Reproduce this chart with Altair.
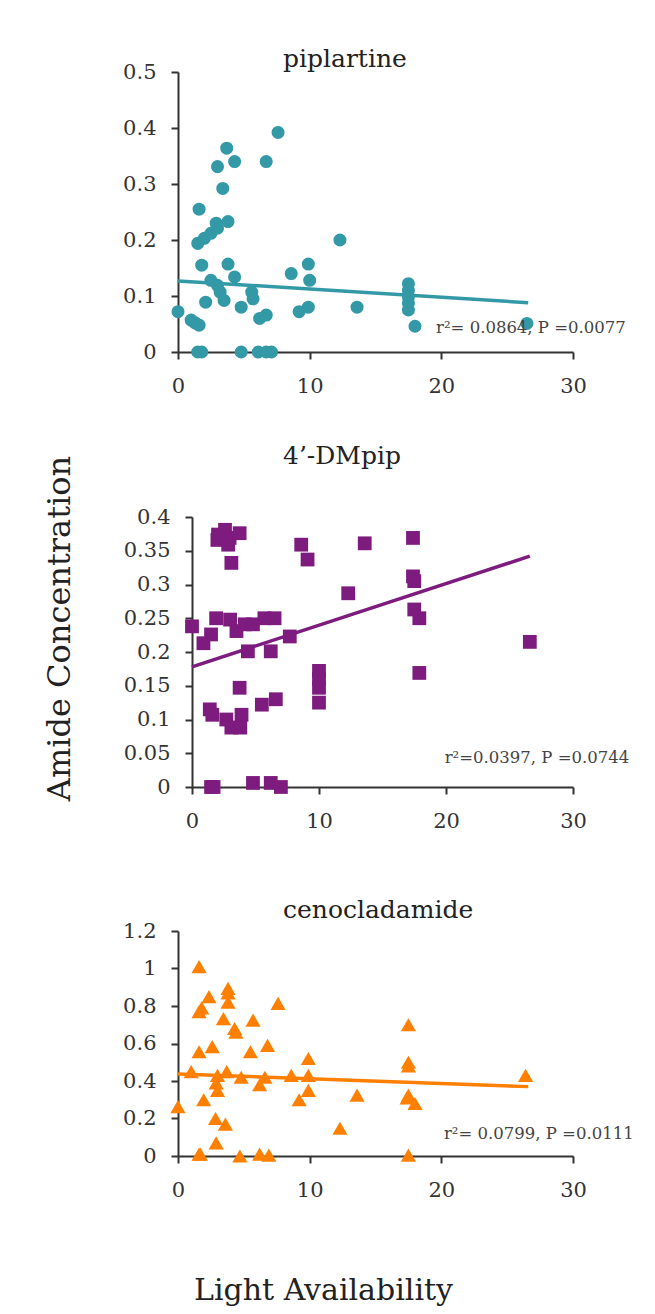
import altair as alt
import pandas as pd

FONT = "DejaVu Serif"

# ---------------- data ----------------
pip_x = [0, 1.0, 1.3, 1.6, 1.5, 1.8, 1.6, 1.5, 2.0, 2.5, 3.0, 2.9, 3.8, 1.8, 2.1,
         3.4, 3.0, 3.7, 4.3, 6.7, 7.6, 3.8, 4.3, 2.5, 3.0, 3.2, 3.5, 4.8, 5.6, 5.7,
         6.2, 6.7, 4.8, 6.1, 6.7, 7.1, 8.6, 9.9, 10.0, 9.2, 9.9, 12.3, 13.6, 17.5,
         17.5, 17.5, 17.5, 17.5, 18.0, 26.5]
pip_y = [0.072, 0.057, 0.052, 0.048, 0, 0, 0.255, 0.194, 0.203, 0.212, 0.221, 0.230,
         0.233, 0.155, 0.089, 0.292, 0.331, 0.364, 0.340, 0.340, 0.392, 0.157, 0.134,
         0.128, 0.119, 0.107, 0.092, 0.080, 0.107, 0.095, 0.060, 0.066, 0, 0, 0, 0,
         0.140, 0.157, 0.128, 0.072, 0.080, 0.200, 0.080, 0.122, 0.110, 0.098, 0.087,
         0.075, 0.046, 0.051]

dm_x = [0, 0.9, 1.5, 1.9, 3.0, 3.5, 4.15, 4.8, 5.7, 6.5, 4.4, 6.2, 7.7, 2.05, 2.0,
        2.6, 2.96, 2.85, 3.75, 3.1, 8.6, 9.1, 13.6, 17.4, 17.4, 17.5, 17.5, 17.9,
        17.9, 26.6, 12.3, 3.75, 1.4, 1.6, 2.7, 3.1, 3.9, 3.8, 5.5, 6.6, 10.0, 10.0,
        10.0, 10.0, 1.5, 1.7, 4.8, 6.2, 7.0]
dm_y = [0.238, 0.213, 0.226, 0.250, 0.248, 0.231, 0.241, 0.241, 0.250, 0.250, 0.201,
        0.201, 0.223, 0.374, 0.366, 0.381, 0.369, 0.359, 0.376, 0.332, 0.359, 0.337,
        0.361, 0.369, 0.312, 0.305, 0.263, 0.250, 0.169, 0.215, 0.287, 0.147, 0.115,
        0.107, 0.100, 0.088, 0.107, 0.088, 0.122, 0.130, 0.172, 0.160, 0.147, 0.125,
        0, 0, 0.006, 0.006, 0]

ceno_x = [1.6, 2.35, 1.6, 1.8, 3.8, 3.8, 3.8, 3.45, 4.3, 4.4, 5.7, 7.6, 1.6, 2.6, 5.5,
          6.8, 9.9, 1.0, 3.0, 3.7, 4.8, 6.6, 8.6, 9.9, 2.9, 3.0, 6.2, 9.9, 9.2, 0,
          1.95, 2.85, 3.6, 2.9, 1.6, 1.7, 4.7, 6.2, 6.9, 17.5, 17.5, 17.5, 17.5, 17.4,
          18.0, 13.6, 12.3, 26.4, 17.5]
ceno_y = [1.01, 0.85, 0.77, 0.79, 0.894, 0.87, 0.82, 0.733, 0.68, 0.66, 0.725, 0.814,
          0.556, 0.583, 0.556, 0.59, 0.52, 0.45, 0.43, 0.45, 0.42, 0.42, 0.43, 0.43,
          0.39, 0.35, 0.38, 0.35, 0.30, 0.263, 0.30, 0.20, 0.17, 0.07, 0.01, 0.01, 0,
          0.01, 0.005, 0.70, 0.50, 0.48, 0.325, 0.31, 0.28, 0.325, 0.148, 0.43, 0.005]

# fitted trend lines (end points)
pip_fit_x = [0, 26.6]
pip_fit_y = [0.127, 0.088]
dm_fit_x = [0, 26.6]
dm_fit_y = [0.178, 0.342]
ceno_fit_x = [0, 26.6]
ceno_fit_y = [0.437, 0.370]

titles = ["piplartine", "4\u2019-DMpip", "cenocladamide"]
stats = ["r\u00b2= 0.0864, P =0.0077",
         "r\u00b2=0.0397, P =0.0744",
         "r\u00b2= 0.0799, P =0.0111"]

x_ticks = [0, 10, 20, 30]
pip_yticks = [0, 0.1, 0.2, 0.3, 0.4, 0.5]
dm_yticks = [0, 0.05, 0.1, 0.15, 0.2, 0.25, 0.3, 0.35, 0.4]
ceno_yticks = [0, 0.2, 0.4, 0.6, 0.8, 1.0, 1.2]

TEAL = "#3399A6"
PURPLE = "#7D1B7E"
ORANGE = "#FF7F00"
AXC = "#333333"

W = 395


def panel(xs, ys, fx, fy, title, stat, stat_xy, color, shape, size, ydom, yticks,
          height, xrange, yoffset, title_offset, yaxis_title=None, xaxis_title=None):
    pts = pd.DataFrame({"x": xs, "y": ys})
    fit = pd.DataFrame({"x": fx, "y": fy})

    ykw = dict(values=yticks, tickCount=len(yticks), format="~g", grid=False,
               labelFlush=False, offset=yoffset, title=None)
    if yaxis_title:
        ykw.update(title=yaxis_title["text"], titleX=yaxis_title["x"],
                   titleY=yaxis_title["y"], titleAngle=270, titleAlign="center",
                   titleBaseline="middle", titleFontSize=32, titleFont=FONT,
                   titleFontWeight="normal", titleColor="#222222")
    xkw = dict(values=x_ticks, tickCount=len(x_ticks), format="d", grid=False,
               labelFlush=False, title=None)
    if xaxis_title:
        xkw.update(title=xaxis_title["text"], titleX=xaxis_title["x"],
                   titleY=xaxis_title["y"], titleAlign="center",
                   titleBaseline="middle", titleFontSize=30, titleFont=FONT,
                   titleFontWeight="normal", titleColor="#222222")

    xenc = alt.X("x:Q", scale=alt.Scale(domain=[0, 30], range=xrange, nice=False),
                 axis=alt.Axis(**xkw))
    yenc = alt.Y("y:Q", scale=alt.Scale(domain=ydom, nice=False), axis=alt.Axis(**ykw))

    points = alt.Chart(pts).mark_point(filled=True, shape=shape, size=size,
                                       opacity=1, color=color).encode(x=xenc, y=yenc)
    line = alt.Chart(fit).mark_line(color=color, strokeWidth=3.5).encode(x="x:Q", y="y:Q")
    txt = alt.Chart(pd.DataFrame({"label": [stat]})).mark_text(
        align="left", baseline="middle", font=FONT, fontSize=16.5, color="#444444"
    ).encode(x=alt.datum(stat_xy[0]), y=alt.datum(stat_xy[1]), text="label:N")

    return alt.layer(points, line, txt).properties(
        width=W, height=height,
        title=alt.TitleParams(title, anchor="start", frame="group", dx=105,
                              offset=title_offset, font=FONT, fontSize=25,
                              fontWeight="normal", color="#222222"),
    )


p1 = panel(pip_x, pip_y, pip_fit_x, pip_fit_y, titles[0], stats[0], (19.6, 0.042),
           TEAL, "circle", 170, [0, 0.5], pip_yticks, 280, [0, W], 0, -11)
p2 = panel(dm_x, dm_y, dm_fit_x, dm_fit_y, titles[1], stats[1], (19.9, 0.043),
           PURPLE, "square", 190, [0, 0.4], dm_yticks, 270, [14, W], -14, -14,
           yaxis_title={"text": "Amide Concentration", "x": -133, "y": 111})
p3 = panel(ceno_x, ceno_y, ceno_fit_x, ceno_fit_y, titles[2], stats[2], (20.2, 0.117),
           ORANGE, "triangle-up", 230, [0, 1.2], ceno_yticks, 225, [0, W], 0, -3,
           xaxis_title={"text": "Light Availability", "x": 145, "y": 134})

chart = alt.vconcat(alt.vconcat(p1, p2, spacing=48), p3, spacing=67).properties(
    padding={"left": 34, "top": 39, "right": 5, "bottom": 5}
).configure_view(stroke=None).configure_axis(
    domainColor=AXC, domainWidth=2, tickColor=AXC, tickWidth=2, tickSize=7,
    labelFont=FONT, labelFontSize=21, labelColor="#333333", labelPadding=15
).configure_axisX(labelPadding=16)

chart.save("out.html", embed_options={"renderer": "svg", "actions": False})
